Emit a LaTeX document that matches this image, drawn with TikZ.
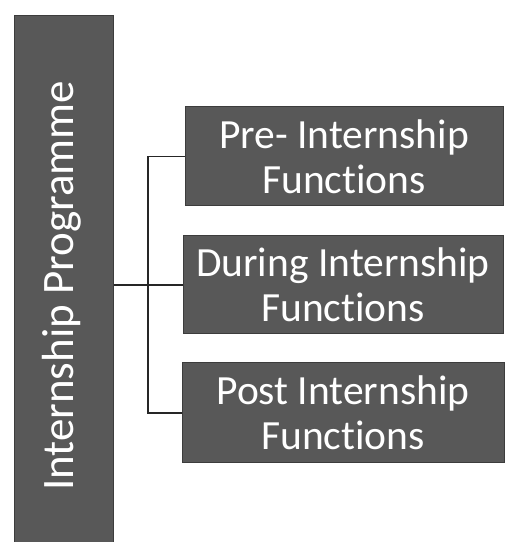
\documentclass[tikz,border=0pt]{standalone}
\usepackage{fontspec}
\setmainfont[Ligatures=NoCommon]{Carlito}
\definecolor{boxgray}{RGB}{88,88,88}
\definecolor{edgegray}{RGB}{60,60,60}
\begin{document}
\begin{tikzpicture}[x=1pt,y=1pt,
  fbox/.style={draw=edgegray,line width=1pt,fill=boxgray,text=white,align=center,
    font=\fontsize{41.5}{45}\selectfont,inner sep=0pt},
  conn/.style={draw=black!85,line width=1.8pt}]
\useasboundingbox (0,0) rectangle (506,542);
\fill[white] (0,0) rectangle (506,542);
% left bar
\node[fbox,minimum width=99pt,minimum height=528pt,anchor=south west] (bar) at (14,-2) {};
\node[rotate=90,anchor=base,text=white,font=\fontsize{45}{50}\selectfont] (bartext) at (73,256) {Internship Programme};
% right boxes
\node[fbox,minimum width=318pt,minimum height=99pt] (b1) at (344,385.5) {Pre- Internship\\Functions};
\node[fbox,minimum width=320pt,minimum height=98pt] (b2) at (343,257) {During Internship\\Functions};
\node[fbox,minimum width=322pt,minimum height=100pt] (b3) at (343,129) {Post Internship\\Functions};
% connectors
\coordinate (j) at (148,385.5);
\draw[conn] (bar.east |- b2.west) -- (b2.west);
\draw[conn] (b1.west) -- (j) |- (b3.west);
\end{tikzpicture}
\end{document}
